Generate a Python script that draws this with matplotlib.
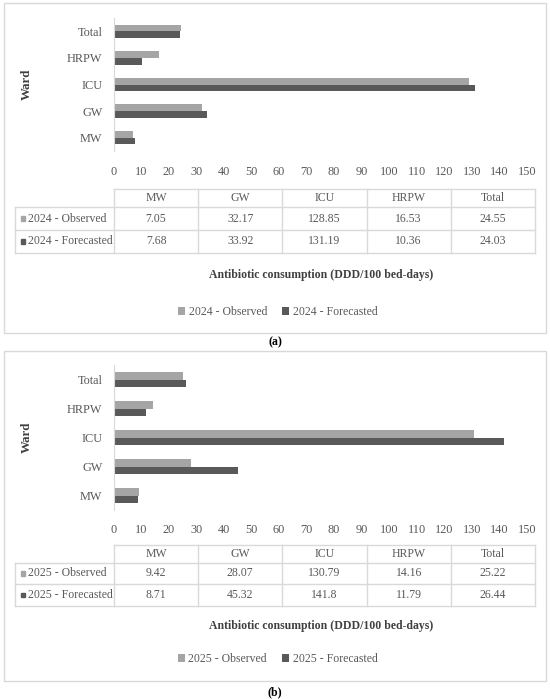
import matplotlib.pyplot as plt
from matplotlib.patches import Rectangle
import numpy as np

# data
wards = ['MW', 'GW', 'ICU', 'HRPW', 'Total']
obs_2024 = [7.05, 32.17, 128.85, 16.53, 24.55]
fc_2024 = [7.68, 33.92, 131.19, 10.36, 24.03]
obs_2025 = [9.42, 28.07, 130.79, 14.16, 25.22]
fc_2025 = [8.71, 45.32, 141.8, 11.79, 26.44]
x_ticks = list(range(0, 151, 10))

LIGHT = '#A5A5A5'
DARK = '#595959'
GRID = '#D9D9D9'
TXT = '#595959'
W, H = 550, 699

plt.rcParams['font.family'] = ['Liberation Serif', 'DejaVu Serif']
fig = plt.figure(figsize=(W / 100, H / 100), dpi=100)

# overlay in pixel units for frames, tables and captions
ov = fig.add_axes([0, 0, 1, 1])
ov.set_xlim(0, W)
ov.set_ylim(H, 0)
ov.axis('off')

X0, X1 = 113.5, 527  # value axis 0..150 in pixels
col_x = np.linspace(114, 535, len(wards) + 1)


def panel(year, obs, fc, box, ax_top, ax_bot, tick_y, tab_rows, xlab_y, leg_y, cap, cap_y, bar_h):
    # frame around the panel
    ov.add_patch(Rectangle((box[0], box[1]), box[2] - box[0], box[3] - box[1],
                           fill=False, edgecolor=GRID, lw=1))

    ax = fig.add_axes([X0 / W, 1 - ax_bot / H, (X1 - X0) / W, (ax_bot - ax_top) / H])
    y = np.arange(len(wards))
    b_obs = ax.barh(y + bar_h / 2, obs, height=bar_h, color=LIGHT)
    b_fc = ax.barh(y - bar_h / 2, fc, height=bar_h, color=DARK)
    ax.set_xlim(0, 150)
    ax.set_ylim(-0.5, len(wards) - 0.5)
    ax.set_xticks(x_ticks)
    ax.set_yticks(y)
    ax.set_yticklabels(wards)
    for s in ['top', 'right', 'bottom']:
        ax.spines[s].set_visible(False)
    ax.spines['left'].set_color(GRID)
    ax.tick_params(axis='x', length=0, labelsize=8.8, labelcolor=TXT,
                   pad=(tick_y - ax_bot - 5) * 0.72)
    ax.tick_params(axis='y', length=0, labelsize=8.8, labelcolor=TXT, pad=8)
    ax.set_ylabel('Ward', fontsize=9.3, fontweight='bold', color='#404040')
    ax.yaxis.set_label_coords((33 - X0) / (X1 - X0), 0.5)
    ax.patch.set_alpha(0)

    # data table under the axis
    t0, t1, t2, t3 = tab_rows
    ov.plot([col_x[0], col_x[-1]], [t0, t0], color=GRID, lw=1)
    for yy in (t1, t2, t3):
        ov.plot([15, col_x[-1]], [yy, yy], color=GRID, lw=1)
    ov.plot([15, 15], [t1, t3], color=GRID, lw=1)
    for xx in col_x:
        ov.plot([xx, xx], [t0, t3], color=GRID, lw=1)
    for i, w in enumerate(wards):
        xc = (col_x[i] + col_x[i + 1]) / 2
        ov.text(xc, (t0 + t1) / 2, w, ha='center', va='center', fontsize=8.5, color=TXT)
        ov.text(xc, (t1 + t2) / 2, str(obs[i]), ha='center', va='center', fontsize=8.5, color=TXT)
        ov.text(xc, (t2 + t3) / 2, str(fc[i]), ha='center', va='center', fontsize=8.5, color=TXT)
    for (ya, yb), c, lab in [((t1, t2), LIGHT, f'{year} - Observed'),
                             ((t2, t3), DARK, f'{year} - Forecasted')]:
        ym = (ya + yb) / 2
        ov.add_patch(Rectangle((20.5, ym - 2.3), 4.6, 4.6, color=c))
        ov.text(28, ym, lab, ha='left', va='center', fontsize=8.5, color=TXT)

    ov.text(321, xlab_y, 'Antibiotic consumption (DDD/100 bed-days)', ha='center', va='center',
            fontsize=8.5, fontweight='bold', color='#404040')
    fig.legend([b_obs, b_fc], [f'{year} - Observed', f'{year} - Forecasted'],
               loc='center', bbox_to_anchor=(0.505, 1 - leg_y / H), ncol=2, frameon=False,
               fontsize=8.5, labelcolor=TXT, handlelength=0.6, handleheight=0.6,
               handletextpad=0.3, columnspacing=1.3)
    ov.text(275, cap_y, cap, ha='center', va='center', fontsize=8.5, fontweight='bold')


panel(2024, obs_2024, fc_2024, (3.5, 3, 546, 333), 18, 151, 171,
      (189, 207, 230, 253), 275, 312, '(a)', 342, 0.25)
panel(2025, obs_2025, fc_2025, (3.5, 351, 546, 681), 365, 510, 529,
      (545, 563, 584, 606), 626, 659, '(b)', 692, 0.27)

fig.savefig('out.png', dpi=100)
